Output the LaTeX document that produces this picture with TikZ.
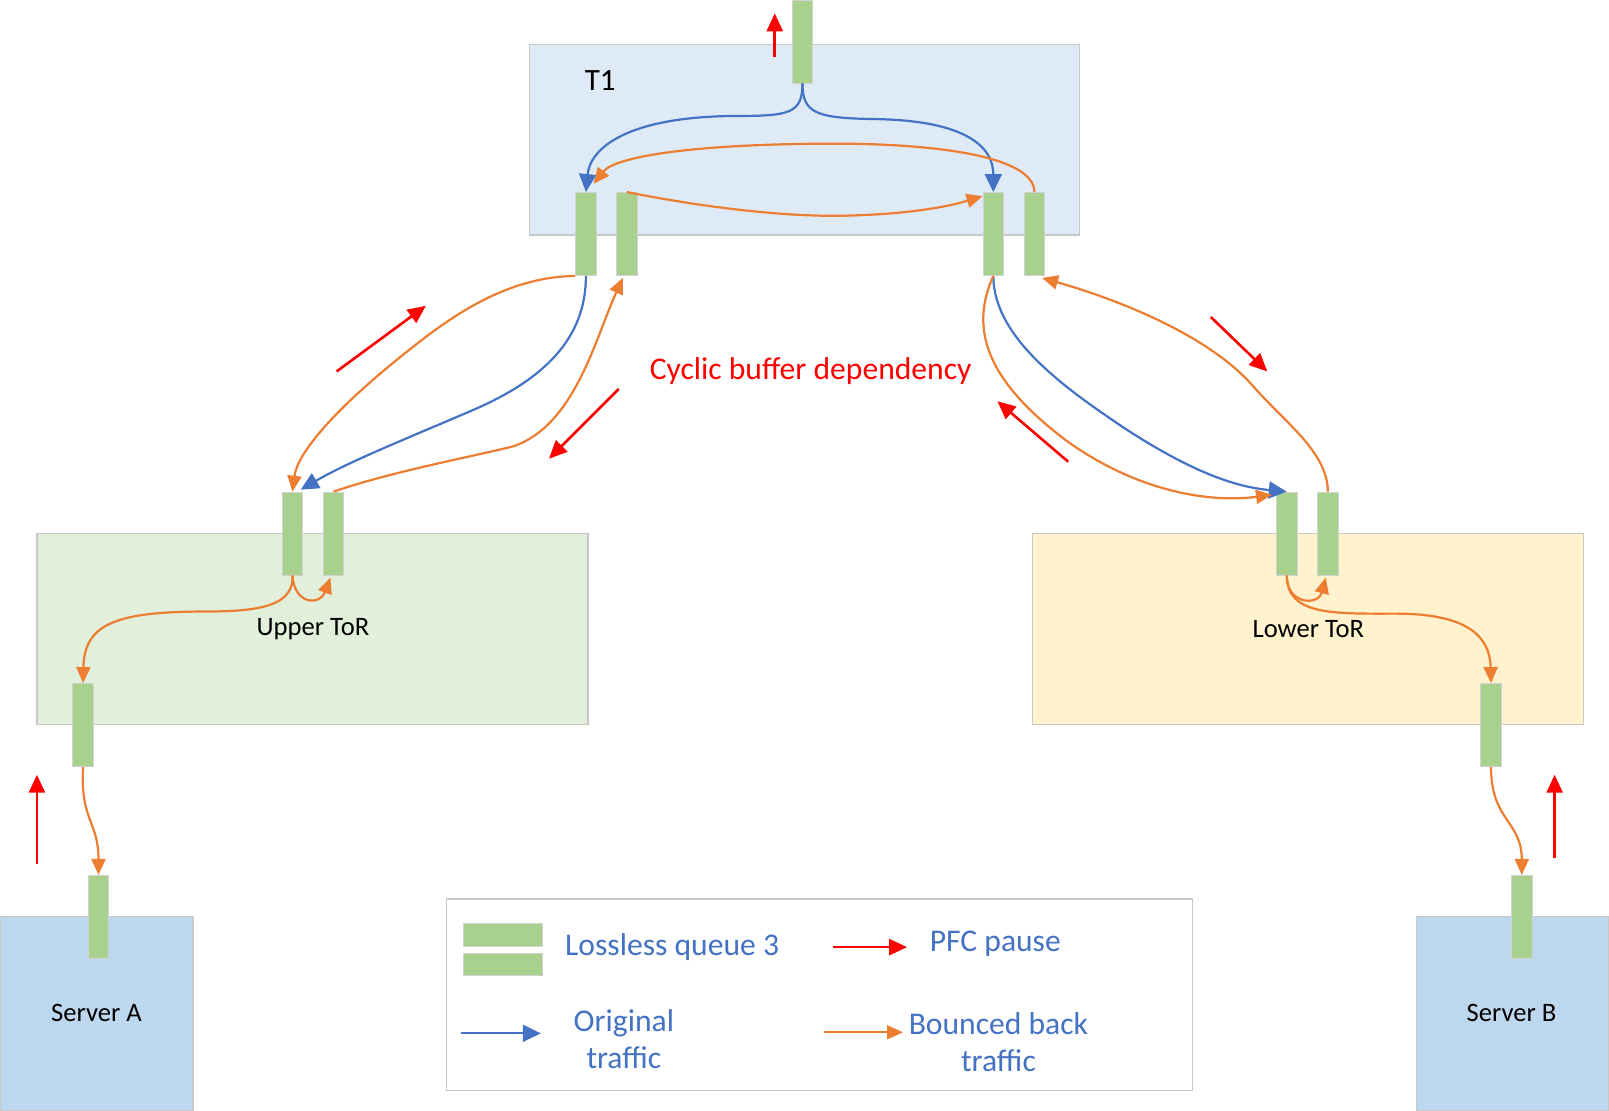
\documentclass[tikz,border=0pt]{standalone}
\usepackage{fontspec}
\setmainfont{Carlito}
\usepackage{xcolor}
\usepackage{tikz}
\usetikzlibrary{arrows.meta,positioning}

\definecolor{qgreen}{HTML}{A9D18E}
\definecolor{boxedge}{HTML}{C8C8C8}
\definecolor{tonefill}{HTML}{DEEBF7}
\definecolor{upfill}{HTML}{E2EFDA}
\definecolor{lowfill}{HTML}{FFF2CC}
\definecolor{srvfill}{HTML}{BDD7EE}
\definecolor{origblue}{HTML}{4472C4}
\definecolor{bounceorange}{HTML}{ED7D31}
\definecolor{pfcred}{HTML}{FF0000}

\begin{document}
\begin{tikzpicture}[
    x=0.513pt, y=-0.513pt,
    queue/.style={rectangle, draw=gray!35, fill=qgreen, minimum width=10.3pt, minimum height=41.5pt, inner sep=0pt},
    legbar/.style={rectangle, draw=gray!35, fill=qgreen, minimum width=39.5pt, minimum height=11.3pt, inner sep=0pt},
    region/.style={draw=boxedge, line width=0.6pt},
    orig/.style={-{Triangle[length=9pt,width=8.5pt]}, origblue, line width=1.1pt},
    bounce/.style={-{Triangle[length=8pt,width=7pt]}, bounceorange, line width=1.1pt},
    pause/.style={-{Triangle[length=9pt,width=8pt]}, pfcred, line width=1.3pt},
    lbl/.style={font=\fontsize{13.3}{16}\selectfont},
    legtext/.style={font=\fontsize{15.8}{18.5}\selectfont, text=origblue, align=center}
]
\useasboundingbox (0,0) rectangle (1568,1082);

% Switches and servers
\draw[region, fill=tonefill] (516,43) rectangle (1052,229);
\draw[region, fill=upfill] (36,520) rectangle (573,706);
\draw[region, fill=lowfill] (1006,520) rectangle (1543,706);
\draw[region, fill=srvfill] (0,893) rectangle (188,1082);
\draw[region, fill=srvfill] (1380,893) rectangle (1568,1082);

\node[font=\fontsize{15.5}{18}\selectfont] (t1lbl) at (585,78) {T1};
\node[lbl] (upperlbl) at (305,613) {Upper ToR};
\node[lbl] (lowerlbl) at (1275,613) {Lower ToR};
\node[lbl] (srvalbl) at (94,987) {Server A};
\node[lbl] (srvblbl) at (1473,987) {Server B};

% Queues
\node[queue] (tq) at (782,40.5) {};
\node[queue] (t1l1) at (571,228) {};
\node[queue] (t1l2) at (611,228) {};
\node[queue] (t1r1) at (968,228) {};
\node[queue] (t1r2) at (1008,228) {};
\node[queue] (ul1) at (285,520) {};
\node[queue] (ul2) at (325,520) {};
\node[queue] (ud) at (81,706.5) {};
\node[queue] (sa) at (96,893.5) {};
\node[queue] (ll1) at (1254,520) {};
\node[queue] (ll2) at (1294,520) {};
\node[queue] (ld) at (1453,706.5) {};
\node[queue] (sb) at (1483,893.5) {};

% Original traffic
\draw[orig] (tq.south) .. controls (782,110) and (770,113) .. (720,113) .. controls (610,113) and (575,145) .. (t1l1.north);
\draw[orig] (tq.south) .. controls (782,110) and (795,115) .. (850,116) .. controls (945,117) and (968,145) .. (t1r1.north);
\draw[orig] (t1l1.south) .. controls (571,330) and (530,370) .. (460,400) .. controls (390,430) and (340,450) .. ([shift={(8,-2)}]ul1.north);
\draw[orig] (t1r1.south) .. controls (968,330) and (1040,380) .. (1100,420) .. controls (1170,465) and (1210,475) .. (ll1.north);

% Bounced back traffic inside T1
\draw[bounce] (t1r2.north) .. controls (1008,150) and (900,140) .. (815,140) .. controls (680,140) and (600,152) .. ([shift={(-3,-8)}]t1l1.north east);
\draw[bounce] (t1l2.north) .. controls (700,205) and (780,212) .. (830,210) .. controls (900,208) and (935,198) .. ([shift={(0,4)}]t1r1.north west);

% Bounced back traffic between T1 and the ToRs
\draw[bounce] (t1l1.south west) .. controls (500,270) and (450,300) .. (400,340) .. controls (330,395) and (290,440) .. (ul1.north);
\draw[bounce] (ul2.north) .. controls (380,460) and (460,445) .. (500,435) .. controls (560,415) and (580,330) .. ([shift={(-4,2)}]t1l2.south);
\draw[bounce] (t1r1.south) .. controls (945,320) and (960,370) .. (1040,430) .. controls (1110,480) and (1180,490) .. ([shift={(-4,3)}]ll1.north west);
\draw[bounce] (ll2.north) .. controls (1294,440) and (1250,410) .. (1220,375) .. controls (1180,330) and (1100,295) .. ([shift={(-3,2)}]t1r2.south east);

% Bounced back traffic down to the servers
\draw[bounce] (ul1.south) .. controls (287,595) and (240,596) .. (190,596) .. controls (110,597) and (82,610) .. (ud.north);
\draw[bounce] (ul1.south) .. controls (287,590) and (312,590) .. ([shift={(-3,2)}]ul2.south);
\draw[bounce] (ud.south) .. controls (78,800) and (96,800) .. (sa.north);
\draw[bounce] (ll1.south) .. controls (1254,600) and (1300,598) .. (1360,598) .. controls (1430,598) and (1452,620) .. (ld.north);
\draw[bounce] (ll1.south) .. controls (1254,590) and (1285,590) .. ([shift={(-2,2)}]ll2.south);
\draw[bounce] (ld.south) .. controls (1453,800) and (1483,800) .. (sb.north);

% PFC pause
\draw[pause] (755,56) -- (755,13);
\draw[pause] (328,362) -- (415,298);
\draw[pause] (603,379) -- (535,447);
\draw[pause] (1180,309) -- (1235,362);
\draw[pause] (1041,450) -- (972,391);
\draw[pause] (36,842) -- (36,755);
\draw[pause] (1515,836) -- (1515,755);
\node[font=\fontsize{15.8}{18.5}\selectfont, text=pfcred] (cyclic) at (790,362) {Cyclic buffer dependency};

% Legend
\draw[region, fill=white] (435,876) rectangle (1162,1063);
\node[legbar] (legq1) at (490.5,911) {};
\node[legbar] (legq2) at (490.5,940) {};
\node[legtext] (legqtxt) at (655,923) {Lossless queue 3};
\draw[pause] (812,923) -- (884,923);
\node[legtext] (legptxt) at (970,920) {PFC pause};
\draw[orig] (449,1007) -- (527,1007);
\node[legtext] (legotxt) at (608,1013) {Original\\traffic};
\draw[bounce] (803,1006) -- (880,1006);
\node[legtext] (legbtxt) at (973,1016) {Bounced back\\traffic};

\end{tikzpicture}
\end{document}
